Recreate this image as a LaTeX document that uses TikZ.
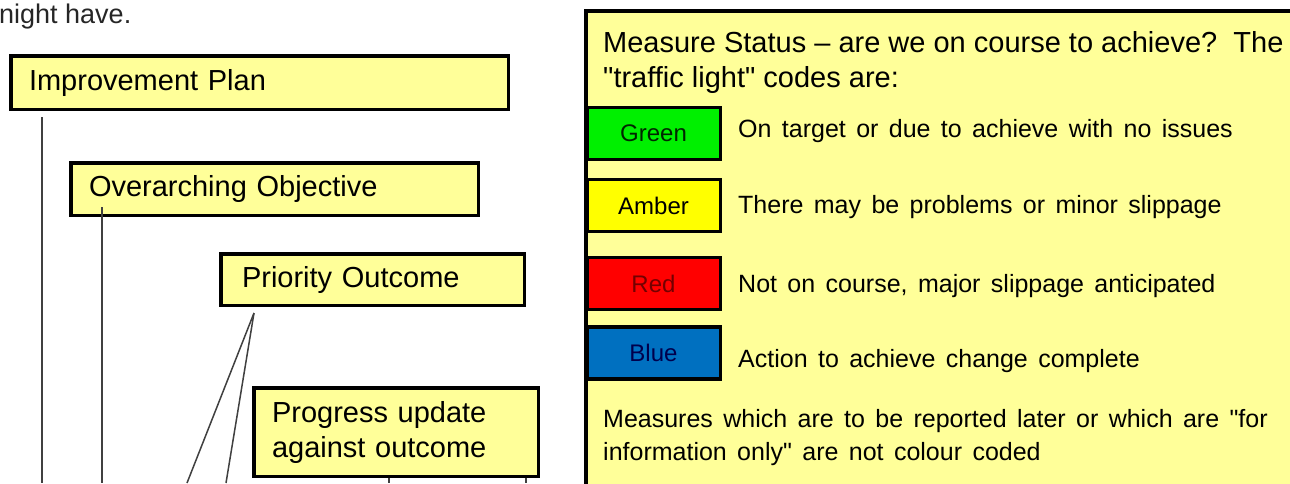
\documentclass[tikz,border=0pt]{standalone}
\usepackage{fontspec}
\setmainfont{Liberation Sans}
\newfontfamily\headfont{Liberation Sans}
\newcommand\legenditemfont{\headfont\fontsize{25}{30}\selectfont\spaceskip=10.4pt plus 2pt minus 2pt\relax}
\definecolor{paleyellow}{HTML}{FFFF99}
\definecolor{swgreen}{HTML}{00F000}
\definecolor{swamber}{HTML}{FFFF00}
\definecolor{swred}{HTML}{FF0000}
\definecolor{swblue}{HTML}{0070C0}
\definecolor{connline}{HTML}{404040}
\begin{document}
\begin{tikzpicture}[x=1pt,y=-1pt,
  ybox/.style={draw=black, line width=3.5pt, fill=paleyellow, align=left,
    inner ysep=0pt, font=\fontsize{29}{35}\selectfont},
  conn/.style={draw=connline, line width=1.5pt},
  swatch/.style={draw=black, line width=3.5pt, minimum width=133.5pt,
    minimum height=52pt, inner sep=0pt, font=\fontsize{24}{28}\selectfont},
  plaintext/.style={anchor=base west, inner sep=0pt},
  itemtext/.style={plaintext, font=\legenditemfont},
  headtext/.style={plaintext, font=\headfont\fontsize{29}{35}\selectfont}]
\useasboundingbox (0,0) rectangle (1290,483);
\begin{scope}
\clip (0,0) rectangle (1290,483);
\fill[white] (0,0) rectangle (1290,483);

% top fragment of text
\node[plaintext, font=\fontsize{27}{30}\selectfont, text=black!85] (frag) at (-1,23) {night have.};

% hierarchy boxes
\node[ybox, minimum width=497.5pt, minimum height=53.5pt, inner xsep=18.25pt,
      text width=461pt] (ip) at (259.5,82.5) {Improvement Plan};
\node[ybox, minimum width=407.5pt, minimum height=52.5pt, inner xsep=18.25pt,
      text width=371pt] (oo) at (274.5,189) {Overarching Objective};
\node[ybox, minimum width=303.5pt, minimum height=51.5pt, inner xsep=21.25pt,
      text width=261pt] (po) at (372.5,279.5) {Priority Outcome};

% connectors
\coordinate (ipEnd) at (42,483);
\coordinate (ooEnd) at (102,483);
\coordinate (poEndA) at (187,483);
\coordinate (poEndB) at (226,483);
\coordinate (puEndA) at (389,483);
\coordinate (puEndB) at (526,483);
\draw[conn] ([xshift=33pt,yshift=-6pt]ip.south west) -- (ipEnd);
\draw[conn] ([xshift=33pt,yshift=10pt]oo.south west) -- (ooEnd);
\draw[conn] ([xshift=35pt,yshift=-6pt]po.south west) -- (poEndA);
\draw[conn] ([xshift=35pt,yshift=-6pt]po.south west) -- (poEndB);

\node[ybox, minimum width=284.5pt, minimum height=88.5pt, inner xsep=18.25pt,
      text width=248pt] (pu) at (396,432) {Progress update\\against outcome};
\draw[conn] ([xshift=137pt]pu.south west) -- (puEndA);
\draw[conn] ([xshift=274pt]pu.south west) -- (puEndB);

% legend panel
\node[draw=black, line width=3.5pt, fill=paleyellow, minimum width=800pt,
      minimum height=600pt, anchor=north west, inner sep=0pt] (panel) at (584,9) {};
\node[headtext] (hdrA) at (603,52) {Measure Status – are we on course to achieve?\ \ The};
\node[headtext] (hdrB) at (603,87) {"traffic light" codes are:};

\node[swatch, fill=swgreen, text=black!85!green] (sg) at (653.5,133.5) {Green};
\node[swatch, fill=swamber, text=black] (sa) at (653.5,205.5) {Amber};
\node[swatch, fill=swred, text=black!55!red] (sr) at (653.5,283.5) {Red};
\node[swatch, fill=swblue, text=black!70!blue] (sb) at (653.5,353) {Blue};

\node[itemtext] (tg) at (738,137) {On target or due to achieve with no issues};
\node[itemtext] (ta) at (738,213) {There may be problems or minor slippage};
\node[itemtext] (tr) at (738,292) {Not on course, major slippage anticipated};
\node[itemtext] (tb) at (738,367) {Action to achieve change complete};

\node[itemtext] (ftA) at (603,427) {Measures which are to be reported later or which are "for};
\node[itemtext] (ftB) at (603,460) {information only" are not colour coded};
\end{scope}
\end{tikzpicture}
\end{document}
